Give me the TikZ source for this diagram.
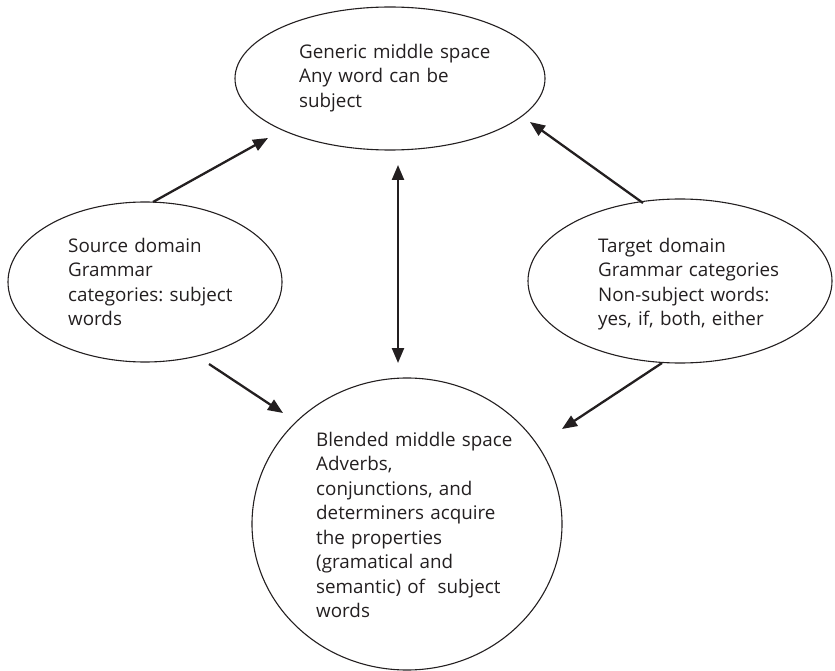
\documentclass[tikz,border=0pt]{standalone}
\usepackage{fontspec}
\setmainfont{Open Sans}
\frenchspacing
\usetikzlibrary{shapes.geometric,arrows.meta}
\definecolor{ink}{HTML}{231F20}
\begin{document}
\begin{tikzpicture}[x=1pt,y=-1pt,
  space/.style={ellipse,draw=ink,line width=1.1pt,inner sep=0pt},
  txt/.style={anchor=north west,inner sep=0pt,text width=240pt,align=left,font=\fontsize{18.8}{24.5}\selectfont,text=ink},
  arr/.style={line width=2.3pt,draw=ink,-{Triangle[length=15pt,width=12pt]}},
  darr/.style={line width=2.3pt,draw=ink,{Triangle[length=15pt,width=12pt]}-{Triangle[length=15pt,width=12pt]}}]
\useasboundingbox (0,0) rectangle (835,671);
% spaces
\node[space,minimum width=310pt,minimum height=143pt] (gen) at (390,78.5) {};
\node[space,minimum width=274pt,minimum height=160pt] (src) at (145,282) {};
\node[space,minimum width=304pt,minimum height=164pt] (tgt) at (680,281) {};
\node[space,minimum width=310pt,minimum height=292pt] (bld) at (407,524) {};
% texts
\node[txt] (gent) at (299,43.7) {Generic middle space\\Any word can be\\subject};
\node[txt] (srct) at (68,237.7) {Source domain\\Grammar\\categories: subject\\words};
\node[txt] (tgtt) at (598,237.7) {Target domain\\Grammar categories\\Non-subject words:\\yes, if, both, either};
\node[txt] (bldt) at (316,431.7) {Blended middle space\\Adverbs,\\conjunctions, and\\determiners acquire\\the properties\\(gramatical and\\semantic) of~ subject\\words};
% connector ends
\coordinate (s1) at (153,202);
\coordinate (g1) at (268,138);
\coordinate (t1) at (643,203);
\coordinate (g2) at (530,122);
\coordinate (s2) at (209,364);
\coordinate (b1) at (283,413);
\coordinate (t2) at (662,363);
\coordinate (b2) at (562,429);
\coordinate (g3) at (398,165);
\coordinate (b3) at (398,363);
\draw[arr] (s1) -- (g1);
\draw[arr] (t1) -- (g2);
\draw[arr] (s2) -- (b1);
\draw[arr] (t2) -- (b2);
\draw[darr] (g3) -- (b3);
\end{tikzpicture}
\end{document}
